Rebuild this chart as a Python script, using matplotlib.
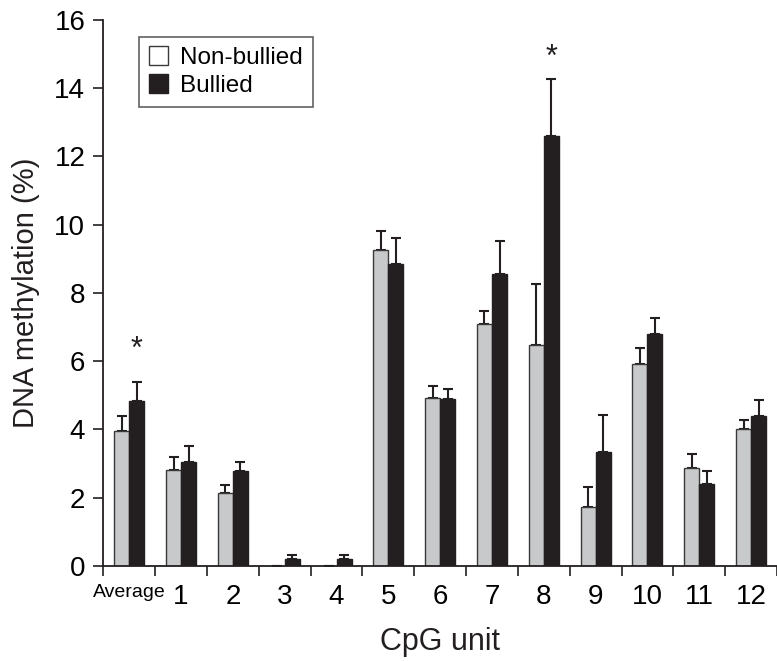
import numpy as np
import matplotlib
matplotlib.use("Agg")
import matplotlib.pyplot as plt
from matplotlib import font_manager
from matplotlib.patches import Patch

units = ["Average", "1", "2", "3", "4", "5", "6", "7", "8", "9", "10", "11", "12"]
non_bullied = [3.96, 2.82, 2.15, 0.0, 0.0, 9.25, 4.92, 7.09, 6.46, 1.72, 5.92, 2.86, 4.00]
non_bullied_err = [0.42, 0.38, 0.23, 0.0, 0.0, 0.56, 0.34, 0.37, 1.81, 0.59, 0.46, 0.42, 0.27]
bullied = [4.84, 3.06, 2.77, 0.20, 0.20, 8.85, 4.89, 8.54, 12.60, 3.35, 6.79, 2.40, 4.38]
bullied_err = [0.56, 0.47, 0.28, 0.12, 0.12, 0.77, 0.29, 0.99, 1.67, 1.06, 0.49, 0.37, 0.48]
# significance markers (unit, height of the star)
significant = ["Average", "8"]
star_height = [6.43, 15.0]

names = {f.name for f in font_manager.fontManager.ttflist}
narrow = "Liberation Sans Narrow" if "Liberation Sans Narrow" in names else "Liberation Sans"
plt.rcParams["font.family"] = ["Liberation Sans", "DejaVu Sans"]

gray = "#c8c9cb"
black = "#231f20"
edge = "#3a3a3a"

fig = plt.figure(figsize=(7.77, 6.61), dpi=100)
ax = fig.add_axes([0.133, 0.1437, 0.867, 0.8263])

x = np.arange(len(units))
w = 0.29
ax.bar(x - w / 2, non_bullied, w, color=gray, edgecolor=edge, linewidth=1.0, zorder=2)
ax.bar(x + w / 2, bullied, w, color=black, edgecolor=black, linewidth=1.0, zorder=2)

# upward-only error bars
ax.errorbar(x - w / 2, non_bullied, yerr=[np.zeros(len(x)), non_bullied_err],
            fmt="none", ecolor=black, elinewidth=1.5, capsize=3.5, capthick=1.5, zorder=1)
ax.errorbar(x + w / 2, bullied, yerr=[np.zeros(len(x)), bullied_err],
            fmt="none", ecolor=black, elinewidth=1.5, capsize=3.5, capthick=1.5, zorder=1)

for u, h in zip(significant, star_height):
    i = units.index(u)
    ax.text(i + w / 2, h - 0.55, "*", ha="center", va="bottom", fontsize=22, color=black)

ax.set_ylim(0, 16)
ax.set_yticks(range(0, 17, 2))
ax.set_xlim(-0.5, 12.25)
ax.set_xticks(x)
ax.set_xticks(np.arange(-0.5, 12.6, 1), minor=True)
ax.set_xticklabels(units, fontfamily=narrow, fontsize=20)
ax.get_xticklabels()[0].set_fontsize(14)
ax.tick_params(axis="x", which="major", length=0, pad=13)
ax.tick_params(axis="x", which="minor", length=7, width=1.2, direction="out", color=black)
ax.tick_params(axis="y", length=7, width=1.2, direction="out", color=black,
               labelsize=20, pad=6)

for s in ["top", "right"]:
    ax.spines[s].set_visible(False)
for s in ["left", "bottom"]:
    ax.spines[s].set_linewidth(1.3)
    ax.spines[s].set_color(black)

ax.set_xlabel("CpG unit", fontfamily=narrow, fontsize=22, labelpad=12, color=black)
ax.set_ylabel("DNA methylation (%)", fontfamily=narrow, fontsize=21, labelpad=10, color=black)

handles = [Patch(facecolor="white", edgecolor=edge, linewidth=1.0, label="Non-bullied"),
           Patch(facecolor=black, edgecolor=black, label="Bullied")]
leg = ax.legend(handles=handles, loc="upper left", bbox_to_anchor=(0.053, 0.969),
                borderaxespad=0, fontsize=17.5, frameon=True, fancybox=False,
                handlelength=0.8, handleheight=0.8, handletextpad=0.5, borderpad=0.4,
                labelspacing=0.2)
leg.get_frame().set_edgecolor(edge)
leg.get_frame().set_linewidth(1.2)

fig.savefig("out.png", dpi=100)
